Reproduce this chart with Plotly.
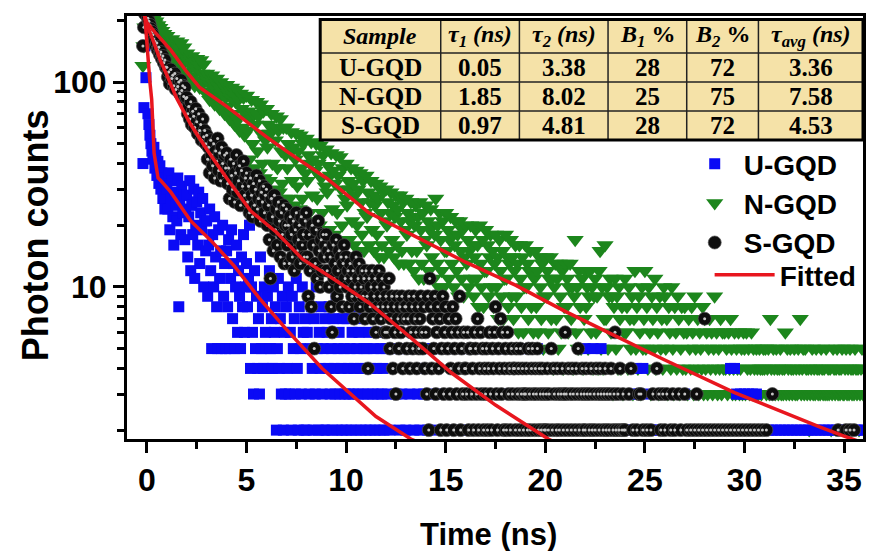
import plotly.graph_objects as go

# ---------------- data ----------------
# channel times: fine step 0.05 ns for t < 1 ns; afterwards each row spans 1 ns
t_early = [round(-0.2 + 0.05 * i, 2) for i in range(24)]

U_early = [40, 75, 150, 105, 230, 70, 62, 55, 50, 46, 42, 48, 38, 44, 35, 41, 32, 39, 30, 36, 27, 34, 24, 31]
N_early = [120, 150, 185, 215, 240, 232, 226, 218, 212, 205, 198, 204, 192, 198, 186, 190, 178, 184, 172, 178, 166, 172, 160, 168]
S_early = [150, 185, 215, 232, 225, 205, 198, 190, 182, 176, 170, 162, 158, 150, 155, 143, 148, 136, 140, 130, 134, 124, 128, 118]

# row r covers t = 1 + r ... 2 + r (evenly spaced channels)
U_rows = [
    [30, 24, 36, 19, 27, 33, 22, 16, 29, 25, 21, 34, 8, 26, 18, 31, 23, 28, 17, 24],
    [28, 14, 22, 33, 12, 25, 18, 30, 11, 20, 26, 16, 29, 13, 23, 19, 27, 10, 21, 15],
    [21, 9, 16, 24, 12, 5, 18, 10, 22, 14, 8, 5, 19, 11, 15, 5, 20, 9, 13, 5],
    [15, 8, 17, 5, 11, 19, 7, 13, 5, 10, 16, 6, 12, 9, 5, 14, 8, 18, 6, 10],
    [13, 8, 11, 20, 4, 10, 6, 3, 12, 5, 9, 4, 7, 3, 14, 5, 8, 4, 10, 6],
    [5, 9, 4, 12, 5, 7, 4, 10, 6, 8, 2, 5, 11, 4, 7, 3, 9, 2, 6, 3],
    [8, 4, 10, 3, 6, 2, 9, 5, 7, 3, 11, 4, 2, 8, 5, 3, 10, 6, 2, 7],
    [2, 6, 9, 3, 5, 8, 4, 2, 7, 3, 10, 5, 2, 6, 4, 8, 3, 5, 2, 7],
    [2, 6, 4, 8, 3, 5, 2, 7, 4, 3, 9, 2, 5, 6, 3, 4, 2, 7, 5, 3],
    [2, 7, 4, 3, 5, 2, 6, 3, 4, 8, 2, 5, 3, 6, 4, 2, 7, 3, 5, 4],
    [2, 5, 3, 6, 2, 4, 8, 3, 5, 2, 6, 4, 3, 8, 2, 5, 3, 4, 2, 6],
    [5, 3, 2, 6, 1, 3, 5, 2, 3, 1],
    [2, 5, 3, 1, 2, 5, 3, 2, 4, 3],
    [5, 2, 1, 3, 5, 2, 3, 1, 5, 2],
    [3, 2, 5, 1, 3, 2, 5, 3, 1, 2],
    [5, 3, 2, 1, 5, 3, 2, 3, 5, 1],
    [2, 3, 5, 1, 2, 3, 5, 2, 1, 3],
    [5, 2, 3, 1, 5, 2, 3, 2, 5, 1],
    [3, 2, 5, 1, 3, 2, 5, 3, 1, 2],
    [3, 1, 2, 3, 1, 2, 3, 2, 1, 3],
    [2, 1, 3, 2, 1, 3, 2, 1, 3, 2],
    [5, 2, 3, 1, 5, 2, 3, 1, 5, 2],
    [3, 2, 1, 2, 1, 2, 1, 2, 1, 2],
    [1, 2, 1, 2, 3, 2, 4, 3, 2, 4],
    [3, 2, 1, 2, 1, 2, 1, 2, 1, 2],
    [1, 2, 1, 2, 1, 3, 2, 3, 2, 1],
    [3, 2, 1, 2, 1, 2, 1, 2, 1, 2],
    [1, 2, 1, 2, 1, 2, 1, 2, 1, 2],
    [1, 2, 1, 4, 2, 4, 3, 2, 3, 2],
    [3, 2, 3, 1, 3, 2, 3, 1, 2, 1],
    [2, 1, 2, 1, 2, 1, 2, 1, 2, 1],
    [2, 1, 2, 1, 2, 1, 2, 1, 2, 1],
    [2, 1, 2, 1, 2, 1, 2, 1, 2, 1],
    [2, 1, 2, 1, 2, 1, 2, 1, 2, 1],
    [2, 1, 2, 1, 2, 1, 2, 1, 2, 1],
    [2],
]

N_rows = [
    [168, 135, 152, 124, 146, 162, 130, 148, 120, 140, 158, 128, 146, 116, 155, 136, 122, 148, 112, 132],
    [138, 112, 126, 100, 120, 134, 106, 124, 96, 116, 130, 102, 120, 94, 128, 110, 98, 122, 90, 106],
    [110, 90, 100, 82, 96, 108, 86, 98, 78, 92, 104, 82, 95, 74, 100, 88, 76, 96, 70, 84],
    [97, 76, 88, 66, 84, 94, 70, 86, 62, 80, 92, 66, 82, 58, 88, 74, 60, 84, 55, 70],
    [86, 58, 72, 42, 66, 82, 50, 70, 38, 62, 80, 46, 68, 36, 78, 56, 40, 72, 34, 52],
    [74, 48, 62, 33, 56, 70, 40, 60, 30, 52, 68, 38, 58, 29, 66, 46, 32, 60, 27, 44],
    [60, 38, 50, 27, 45, 57, 33, 48, 25, 42, 56, 31, 46, 24, 55, 38, 27, 50, 23, 36],
    [53, 33, 44, 23, 40, 51, 28, 42, 21, 37, 50, 27, 40, 20, 49, 34, 23, 44, 19, 31],
    [47, 29, 39, 19, 35, 45, 24, 37, 18, 32, 44, 23, 35, 17, 43, 30, 20, 38, 16, 27],
    [40, 25, 33, 17, 30, 38, 21, 32, 16, 28, 37, 20, 30, 15, 36, 26, 18, 33, 15, 23],
    [35, 22, 29, 16, 26, 33, 19, 28, 15, 25, 32, 18, 27, 14, 31, 23, 16, 29, 14, 21],
    [30, 20, 26, 15, 23, 29, 17, 25, 14, 22, 28, 16, 24, 13, 28, 21, 15, 26, 13, 19],
    [27, 18, 23, 13, 21, 26, 15, 22, 12, 20, 25, 15, 22, 11, 26, 19, 13, 23, 11, 17],
    [25, 16, 21, 12, 19, 24, 14, 20, 11, 18, 27, 13, 20, 10, 23, 17, 12, 21, 10, 15],
    [23, 15, 19, 11, 17, 22, 13, 18, 10, 16, 21, 12, 18, 9, 21, 15, 11, 19, 9, 14],
    [20, 13, 17, 10, 15, 20, 11, 16, 9, 14, 19, 11, 16, 8, 20, 13, 10, 17, 8, 12],
    [19, 12, 16, 9, 14, 18, 10, 15, 8, 13, 18, 10, 14, 7, 17, 12, 9, 15, 7, 11],
    [18, 11, 14, 8, 13, 17, 9, 14, 7, 12, 16, 9, 13, 6, 16, 11, 8, 14, 6, 10],
    [16, 10, 13, 7, 12, 15, 8, 12, 6, 11, 15, 8, 12, 6, 14, 10, 7, 13, 5, 9],
    [14, 9, 12, 6, 11, 14, 7, 11, 4, 10, 13, 7, 11, 5, 13, 9, 6, 12, 4, 8],
    [13, 8, 11, 6, 10, 13, 7, 10, 4, 9, 17, 6, 10, 5, 12, 8, 5, 11, 4, 7],
    [12, 8, 10, 5, 9, 12, 6, 10, 4, 9, 11, 6, 9, 4, 12, 15, 5, 10, 4, 7],
    [16, 7, 10, 5, 9, 11, 6, 9, 3, 8, 11, 5, 9, 4, 10, 7, 4, 8, 3, 6],
    [11, 6, 8, 4, 10, 7, 5, 9, 3, 7, 12, 5, 8, 4, 9, 6, 3, 10, 5, 7],
    [12, 5, 8, 4, 10, 6, 3, 9, 7, 5, 11, 4, 8, 6, 3, 9, 5, 7, 4, 10],
    [9, 5, 7, 3, 8, 6, 4, 10, 5, 3, 8, 6, 4, 9, 7, 3, 5, 8, 4, 6],
    [8, 4, 6, 3, 7, 5, 4, 8, 6, 3, 9, 5, 4, 7, 3, 6, 5, 4, 8, 3],
    [7, 4, 6, 3, 5, 7, 4, 6, 3, 5, 9, 4, 6, 3, 5, 4, 7, 3, 6, 4],
    [6, 4, 5, 3, 6, 4, 7, 5, 3, 4, 6, 3, 5, 4, 6, 3, 4, 5, 3, 6],
    [5, 3, 6, 4, 5, 3, 4, 6, 3, 5, 4, 3, 5, 4, 3, 5, 4, 3, 4, 5],
    [4, 5, 3, 4, 5, 3, 7, 4, 3, 5, 4, 3, 5, 4, 3, 4, 5, 3, 4, 3],
    [4, 6, 3, 5, 4, 3, 5, 4, 3, 4, 5, 3, 4, 3, 5, 4, 7, 3, 4, 5],
    [3, 5, 4, 3, 4, 2, 3, 4, 5, 3, 4, 3, 5, 4, 3, 4, 3, 5, 4, 3],
    [4, 3, 5, 3, 4, 3, 4, 2, 3, 5, 4, 3, 4, 5, 3, 4, 3, 4, 5, 3],
    [3, 4, 5, 3, 4, 3, 5, 4, 3, 4, 3, 5, 4, 3, 4, 2, 3, 4, 5, 3],
    [4],
]

S_rows = [
    [118, 106, 112, 98, 115, 104, 108, 96, 110, 92, 104, 95, 100, 88, 102, 91, 96, 85, 94, 83],
    [84, 70, 76, 66, 80, 62, 72, 68, 60, 74, 64, 56, 70, 58, 62, 52, 66, 54, 58, 50],
    [55, 42, 48, 36, 52, 44, 39, 50, 34, 46, 41, 53, 37, 45, 33, 48, 40, 35, 44, 38],
    [45, 32, 38, 27, 42, 35, 30, 40, 26, 36, 44, 29, 33, 39, 25, 37, 31, 41, 28, 34],
    [36, 26, 31, 23, 34, 28, 22, 32, 25, 30, 35, 24, 27, 33, 21, 29, 26, 31, 23, 28],
    [30, 20, 25, 17, 11, 27, 22, 15, 28, 19, 24, 16, 26, 21, 14, 23, 18, 25, 13, 20],
    [24, 16, 20, 13, 22, 18, 14, 21, 12, 19, 23, 15, 17, 20, 13, 22, 16, 18, 14, 21],
    [23, 14, 9, 18, 12, 8, 20, 16, 5, 13, 19, 11, 21, 15, 10, 17, 12, 18, 14, 16],
    [18, 12, 15, 10, 14, 8, 6, 16, 11, 13, 17, 9, 12, 15, 10, 14, 8, 13, 16, 11],
    [14, 10, 12, 8, 13, 11, 9, 12, 7, 10, 14, 9, 11, 13, 8, 10, 12, 9, 11, 7],
    [12, 9, 4, 11, 8, 10, 12, 7, 9, 11, 6, 10, 8, 12, 9, 7, 11, 8, 10, 6],
    [9, 6, 8, 11, 5, 7, 9, 4, 8, 6, 3, 9, 7, 5, 8, 6, 9, 4, 7, 8],
    [8, 5, 7, 9, 4, 6, 8, 5, 9, 7, 6, 4, 8, 5, 7, 9, 6, 5, 8, 4],
    [6, 3, 9, 2, 11, 8, 4, 7, 5, 9, 3, 6, 8, 4, 7, 2, 5, 9, 3, 6],
    [8, 2, 5, 7, 3, 4, 6, 8, 2, 5, 7, 3, 6, 4, 9, 2, 5, 3, 6, 4],
    [4, 3, 6, 2, 5, 5, 3, 4, 2, 6, 5, 3, 7, 2, 4, 6, 3, 5, 2, 4],
    [3, 5, 2, 4, 6, 3, 2, 5, 4, 6, 8, 3, 2, 5, 4, 7, 3, 6, 2, 4],
    [5, 2, 6, 3, 4, 2, 5, 3, 4, 4, 2, 5, 3, 4, 2, 5, 3, 4, 2, 3],
    [3, 4, 2, 5, 3, 2, 4, 5, 3, 2, 4, 3, 5, 2, 4, 3, 2, 4, 3, 2],
    [2, 3, 4, 2, 3, 1, 5, 2, 4, 3, 1, 2, 4, 3, 2, 1, 3, 4, 2, 3],
    [6, 3, 2, 4, 1, 3, 2, 4, 3, 1, 2, 4, 3, 5, 2, 1, 3, 4, 2, 3],
    [2, 4, 3, 1, 2, 3, 4, 2, 1, 3, 2, 4, 1, 3, 2, 4, 3, 1, 2, 3],
    [4, 2, 3, 1, 2, 3, 4, 1, 2, 3, 6, 2, 1, 3, 2, 4, 1, 2, 3, 2],
    [2, 1, 3, 4, 2, 1, 2, 3, 3, 2],
    [1, 2, 1, 2, 3, 1, 4, 3, 2, 3],
    [2, 3, 1, 2, 3, 2, 1, 3, 2, 1],
    [3, 2, 1, 2, 1, 2, 3, 2, 1, 2],
    [7, 2, 1, 2, 1, 2, 1, 2, 1, 2],
    [1, 2, 1, 2, 1, 2, 1, 2, 1, 2],
    [1, 2, 1, 2, 1, 2, 1, 2, 1, 2],
    [1, 2, 1, 1, 3, 1, 1, 1, 1, 1],
    [1, 1, 1, 1, 1, 1, 1, 1, 1, 1],
    [1, 1, 1, 1, 1, 1, 1, 1, 1, 1],
    [1, 1, 1, 1, 1, 1, 1, 2, 1, 1],
    [1, 2, 1, 2, 1, 2, 1, 1, 1, 1],
    [1],
]

# fitted curves
U_fit_t = [-0.12, -0.05, 0.05, 0.15, 0.24, 0.36, 0.56, 0.7, 1.2, 2.2, 3.3, 4.4, 5.65, 7.0, 8.8, 10.5, 11.5, 13.25, 13.6]
U_fit_y = [220, 175, 130, 100, 82, 45, 34, 33, 29, 21, 16.5, 12.6, 8.8, 6.2, 4.0, 2.85, 2.33, 1.81, 1.75]
N_fit_t = [-0.15, 0, 0.4, 1.2, 2.0, 2.65, 4.0, 5.15, 6.0, 7.15, 9.0, 11.15, 13.5, 16.0, 18.5, 21.0, 23.15, 26.0, 29.5, 32.0, 33.8, 35.0, 36.2]
N_fit_y = [215, 195, 175, 143, 112, 94, 76, 62, 54, 45, 34, 23, 17.5, 13.2, 10.2, 7.6, 6.0, 4.4, 3.05, 2.43, 2.07, 1.87, 1.7]
S_fit_t = [-0.15, 0, 0.3, 0.67, 1.0, 1.5, 2.2, 3.0, 4.0, 5.2, 6.5, 7.8, 9.45, 11.15, 13.2, 15.3, 17.5, 20.15, 20.6]
S_fit_y = [215, 190, 160, 128, 108, 83, 62, 47, 34, 23.5, 18.5, 13.7, 10.8, 8.35, 5.7, 3.8, 2.65, 1.81, 1.72]

# inset table
table_header = ["<i>Sample</i>", "<i>τ<sub>1</sub> (ns)</i>", "<i>τ<sub>2</sub> (ns)</i>",
                "<i>B<sub>1</sub></i> %", "<i>B<sub>2</sub></i> %", "<i>τ<sub>avg</sub> (ns)</i>"]
samples = ["U-GQD", "N-GQD", "S-GQD"]
tau1 = ["0.05", "1.85", "0.97"]
tau2 = ["3.38", "8.02", "4.81"]
B1 = ["28", "25", "28"]
B2 = ["72", "75", "72"]
tau_avg = ["3.36", "7.58", "4.53"]

x_ticks = [0, 5, 10, 15, 20, 25, 30, 35]
x_minor = [2.5, 7.5, 12.5, 17.5, 22.5, 27.5, 32.5]
y_ticks = [10, 100]
y_minor = [2, 3, 4, 5, 6, 7, 8, 9, 20, 30, 40, 50, 60, 70, 80, 90, 200]


def expand(early, rows):
    ts = list(t_early[:len(early)])
    ys = list(early)
    for r, row in enumerate(rows):
        n = len(row)
        for k, v in enumerate(row):
            ts.append(round(1.0 + r + k / n, 3))
            ys.append(v)
    return ts, ys


tU, yU = expand(U_early, U_rows)
tN, yN = expand(N_early, N_rows)
tS, yS = expand(S_early, S_rows)

# ---------------- layout helpers (pixel -> paper) ----------------
W, H = 869, 551
L, R, T, B = 127, 3, 16, 112
PW, PH = W - L - R, H - T - B


def px(x):
    return (x - L) / PW


def py(y):
    return (H - B - y) / PH


RED = "#E8161E"
fig = go.Figure()

fig.add_trace(go.Scatter(x=tN, y=yN, mode="markers", name="N-GQD", legendrank=2,
                         legendgroup="n",
                         marker=dict(symbol="triangle-down", size=15, color="#1C861C"),
                         hoverinfo="skip"))
fig.add_trace(go.Scatter(x=tU, y=yU, mode="markers", name="U-GQD", legendrank=1,
                         legendgroup="u",
                         marker=dict(symbol="square", size=11, color="#0A0AF5"),
                         hoverinfo="skip"))
fig.add_trace(go.Scatter(x=tS, y=yS, mode="markers", name="S-GQD", legendrank=3,
                         legendgroup="s",
                         marker=dict(symbol="circle", size=13, color="#0d0d0d",
                                     line=dict(width=0.7, color="#505050")),
                         hoverinfo="skip"))
fig.add_trace(go.Scatter(x=tS, y=yS, mode="markers", showlegend=False, legendgroup="s",
                         marker=dict(symbol="circle", size=3, color="#c4c4c4"),
                         hoverinfo="skip"))
fig.add_trace(go.Scatter(x=U_fit_t, y=U_fit_y, mode="lines", name="Fitted", legendrank=4,
                         legend="legend2", line=dict(color=RED, width=3.5), hoverinfo="skip"))
fig.add_trace(go.Scatter(x=N_fit_t, y=N_fit_y, mode="lines", showlegend=False,
                         line=dict(color=RED, width=3.5), hoverinfo="skip"))
fig.add_trace(go.Scatter(x=S_fit_t, y=S_fit_y, mode="lines", showlegend=False,
                         line=dict(color=RED, width=3.5), hoverinfo="skip"))

# ---------------- inset table ----------------
col_edges = [321, 442, 521, 610, 689, 761, 866]
row_edges = [19.5, 53, 82, 111, 140]
shapes = [dict(type="rect", xref="paper", yref="paper",
               x0=px(col_edges[0]), x1=px(col_edges[-1]), y0=py(row_edges[-1]), y1=py(row_edges[0]),
               fillcolor="#F5E2A8", line=dict(width=0), layer="above")]
for xe in col_edges[1:-1]:
    shapes.append(dict(type="line", xref="paper", yref="paper", x0=px(xe), x1=px(xe),
                       y0=py(row_edges[-1]), y1=py(row_edges[0]),
                       line=dict(color="#222222", width=1.5), layer="above"))
for ye in row_edges[1:-1]:
    shapes.append(dict(type="line", xref="paper", yref="paper", x0=px(col_edges[0]), x1=px(col_edges[-1]),
                       y0=py(ye), y1=py(ye), line=dict(color="#222222", width=1.5), layer="above"))
shapes.append(dict(type="rect", xref="paper", yref="paper",
                   x0=px(col_edges[0]), x1=px(col_edges[-1]), y0=py(row_edges[-1]), y1=py(row_edges[0]),
                   line=dict(color="black", width=3), layer="above"))

annotations = []
hfont = dict(family="Liberation Serif", size=24, color="black", weight="bold")
tfont = dict(family="Liberation Serif", size=25, color="black", weight="bold")
columns = [samples, tau1, tau2, B1, B2, tau_avg]
for c in range(6):
    xc = px((col_edges[c] + col_edges[c + 1]) / 2)
    yc = py((row_edges[0] + row_edges[1]) / 2)
    annotations.append(dict(text=table_header[c], x=xc, y=yc, xref="paper", yref="paper",
                            showarrow=False, xanchor="center", yanchor="middle", font=hfont))
    for r in range(3):
        yc = py((row_edges[r + 1] + row_edges[r + 2]) / 2)
        annotations.append(dict(text=columns[c][r], x=xc, y=yc, xref="paper", yref="paper",
                                showarrow=False, xanchor="center", yanchor="middle", font=tfont))

# axis titles
annotations.append(dict(text="Time (ns)", x=px(490), y=py(534), xref="paper", yref="paper",
                        showarrow=False, xanchor="center", yanchor="middle",
                        font=dict(family="Liberation Sans", size=31, color="black", weight="bold")))
annotations.append(dict(text="Photon counts", x=px(35), y=py(235), xref="paper", yref="paper",
                        showarrow=False, xanchor="center", yanchor="middle", textangle=-90,
                        font=dict(family="Liberation Sans", size=36, color="black", weight="bold")))

tickfont = dict(family="Liberation Sans", size=32, color="black", weight="bold")
lfont = dict(family="Liberation Sans", size=28, color="black", weight="bold")

fig.update_layout(
    width=W, height=H,
    margin=dict(l=L, r=R, t=T, b=B),
    paper_bgcolor="white", plot_bgcolor="white",
    showlegend=True,
    shapes=shapes,
    annotations=annotations,
    xaxis=dict(range=[-1.0, 35.95], showline=True, linewidth=3, linecolor="black", mirror=True,
               ticks="outside", ticklen=11, tickwidth=3, tickcolor="black",
               tickmode="array", tickvals=x_ticks, ticktext=[str(v) for v in x_ticks],
               minor=dict(ticks="outside", ticklen=7, tickwidth=3, tickcolor="black",
                          tickmode="array", tickvals=x_minor),
               showgrid=False, zeroline=False, tickfont=tickfont),
    yaxis=dict(type="log", range=[0.2577, 2.3222], showline=True, linewidth=3, linecolor="black",
               mirror=True, ticks="outside", ticklen=11, tickwidth=3, tickcolor="black",
               tickmode="array", tickvals=y_ticks, ticktext=[str(v) for v in y_ticks],
               ticklabelstandoff=0,
               minor=dict(ticks="outside", ticklen=7, tickwidth=2.5, tickcolor="black",
                          tickmode="array", tickvals=y_minor),
               showgrid=False, zeroline=False, tickfont=tickfont),
    legend=dict(x=px(688), y=py(139), xanchor="left", yanchor="top", bgcolor="rgba(0,0,0,0)",
                font=lfont, itemwidth=48, traceorder="normal", tracegroupgap=0),
    legend2=dict(x=px(712), y=py(250), xanchor="left", yanchor="top", bgcolor="rgba(0,0,0,0)",
                 font=lfont, itemwidth=60),
)

fig.write_html("out.html")
